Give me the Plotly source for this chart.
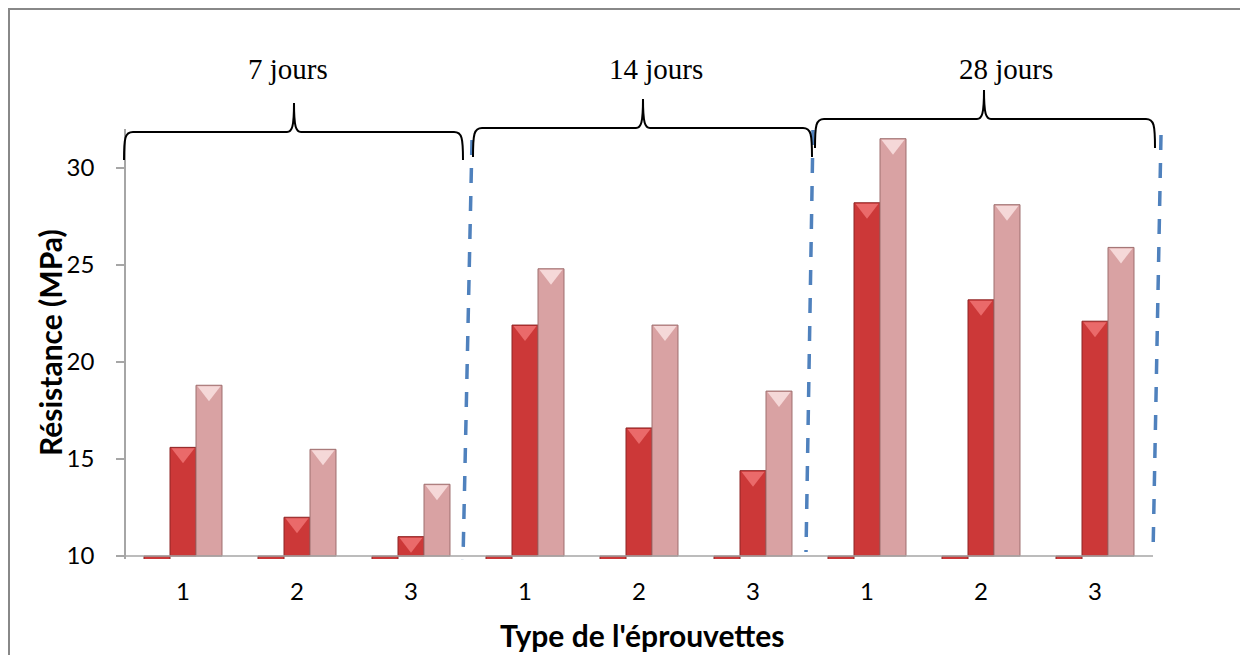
import plotly.graph_objects as go

# ---------------- data ----------------
categories = ["1", "2", "3", "1", "2", "3", "1", "2", "3"]
periods = ["7 jours", "14 jours", "28 jours"]
serie_1 = [0, 0, 0, 0, 0, 0, 0, 0, 0]
serie_2 = [15.6, 12.0, 11.0, 21.9, 16.6, 14.4, 28.2, 23.2, 22.1]
serie_3 = [18.8, 15.5, 13.7, 24.8, 21.9, 18.5, 31.5, 28.1, 25.9]
y_ticks = [10, 15, 20, 25, 30]
y_min, y_max = 9.85, 32.0
axis_cross = 10

# ---------------- geometry (page pixels) ----------------
PAGE_OFF = 8                      # default body margin of the html page
W, H = 1248 - PAGE_OFF, 655 - PAGE_OFF
L, R, T, B = 126, 1152, 129, 559  # plot area in page pixels
PW, PH = R - L, B - T


def px(x):
    return (x - L) / PW


def py(y):
    return (B - y) / PH


bargap = 0.316
n_series = 3
bw = (1 - bargap) / n_series
x_idx = list(range(len(categories)))

red = "#CC3838"
red_line = "#8E2424"
red_top = "#EA6A6A"
pink = "#D9A2A3"
pink_line = "#9E6E6E"
pink_top = "#F5D8D8"

fig = go.Figure()
series = [(serie_1, red, red_line, "Série 1"),
          (serie_2, red, red_line, "Série 2"),
          (serie_3, pink, pink_line, "Série 3")]
for vals, col, lcol, name in series:
    fig.add_trace(go.Bar(
        x=x_idx, y=[v - axis_cross for v in vals], base=axis_cross,
        name=name, marker=dict(color=col, line=dict(color=lcol, width=1)),
        showlegend=False,
    ))

# bevel highlight at bar tops
px_per_unit = PH / (y_max - y_min)
tri_size = 20
tri_off = (tri_size * 0.25 + 1) / px_per_unit
for k, (vals, col, top) in enumerate([(serie_2, red, red_top), (serie_3, pink, pink_top)], start=1):
    fig.add_trace(go.Scatter(
        x=[i + (k - 1) * bw for i in x_idx],
        y=[v - tri_off for v in vals],
        mode="markers",
        marker=dict(symbol="triangle-down", size=tri_size, color=top,
                    line=dict(width=0)),
        hoverinfo="skip", showlegend=False,
    ))

shapes = []
# outer border
shapes.append(dict(type="rect", xref="paper", yref="paper",
                   x0=px(9), y0=py(9), x1=px(1270), y1=py(680),
                   line=dict(color="#888888", width=2), fillcolor="rgba(0,0,0,0)",
                   layer="below"))
# horizontal category axis at y = 10
shapes.append(dict(type="line", xref="paper", yref="y",
                   x0=0, x1=px(1153), y0=axis_cross, y1=axis_cross,
                   line=dict(color="#A6A6A6", width=1.5)))

# dashed separators (slightly slanted as in the original)
for (xt, yt, xb, yb) in [(472, 140, 463, 560), (813, 130, 806, 552), (1161, 135, 1153, 555)]:
    shapes.append(dict(type="line", xref="paper", yref="paper",
                       x0=px(xt), y0=py(yt), x1=px(xb), y1=py(yb),
                       line=dict(color="#4F81BD", width=3.5, dash="15px,13px")))


def brace(x0, x1, mid, yl, yend, ypeak):
    pts = [
        f"M {px(x0)},{py(yend)}",
        f"C {px(x0)},{py(yl + 6)} {px(x0 + 1)},{py(yl)} {px(x0 + 9)},{py(yl)}",
        f"L {px(mid - 7)},{py(yl)}",
        f"C {px(mid - 2)},{py(yl)} {px(mid)},{py(yl - 5)} {px(mid)},{py(ypeak)}",
        f"C {px(mid)},{py(yl - 5)} {px(mid + 2)},{py(yl)} {px(mid + 7)},{py(yl)}",
        f"L {px(x1 - 9)},{py(yl)}",
        f"C {px(x1 - 1)},{py(yl)} {px(x1)},{py(yl + 6)} {px(x1)},{py(yend)}",
    ]
    return dict(type="path", xref="paper", yref="paper", path=" ".join(pts),
                line=dict(color="black", width=2), fillcolor="rgba(0,0,0,0)")


for args in [(124, 463, 294, 132, 160, 103),
             (473, 812, 643, 128, 157, 99),
             (815, 1155, 984, 119, 148, 90)]:
    shapes.append(brace(*args))

annotations = []
for label, xc in zip(periods, [288, 656, 1006]):
    annotations.append(dict(text=label, xref="paper", yref="paper",
                            x=px(xc), y=py(69), xanchor="center", yanchor="middle",
                            showarrow=False,
                            font=dict(family="Liberation Serif", size=29, color="black")))
# axis titles
annotations.append(dict(text="<b>Résistance (MPa)</b>", xref="paper", yref="paper",
                        x=px(50), y=py(343), xanchor="center", yanchor="middle",
                        textangle=-90, showarrow=False,
                        font=dict(family="Lato", size=30, color="black")))
annotations.append(dict(text="<b>Type de l'éprouvettes</b>", xref="paper", yref="paper",
                        x=px(642), y=py(635), xanchor="center", yanchor="middle",
                        showarrow=False,
                        font=dict(family="Lato", size=30, color="black")))

fig.update_layout(
    width=W, height=H,
    margin=dict(l=L - PAGE_OFF, r=W - (R - PAGE_OFF), t=T - PAGE_OFF,
                b=H - (B - PAGE_OFF), pad=0, autoexpand=False),
    paper_bgcolor="white", plot_bgcolor="white",
    barmode="group", bargap=bargap, bargroupgap=0,
    shapes=shapes, annotations=annotations,
    font=dict(family="Lato", color="black"),
    xaxis=dict(
        tickmode="array", tickvals=x_idx, ticktext=categories,
        range=[-0.5, len(categories) - 0.5], automargin=False,
        showline=False, showgrid=False, zeroline=False, ticks="",
        tickfont=dict(family="Lato", size=24, color="black"),
        ticklabelstandoff=16,
    ),
    yaxis=dict(
        range=[y_min, y_max], tickmode="array", tickvals=y_ticks,
        automargin=False,
        showline=True, linecolor="#A6A6A6", linewidth=1.5,
        ticks="outside", ticklen=8, tickcolor="#A6A6A6", tickwidth=1.5,
        showgrid=False, zeroline=False,
        tickfont=dict(family="Lato", size=24, color="black"),
        ticklabelstandoff=17,
    ),
)

fig.write_html("out.html")
